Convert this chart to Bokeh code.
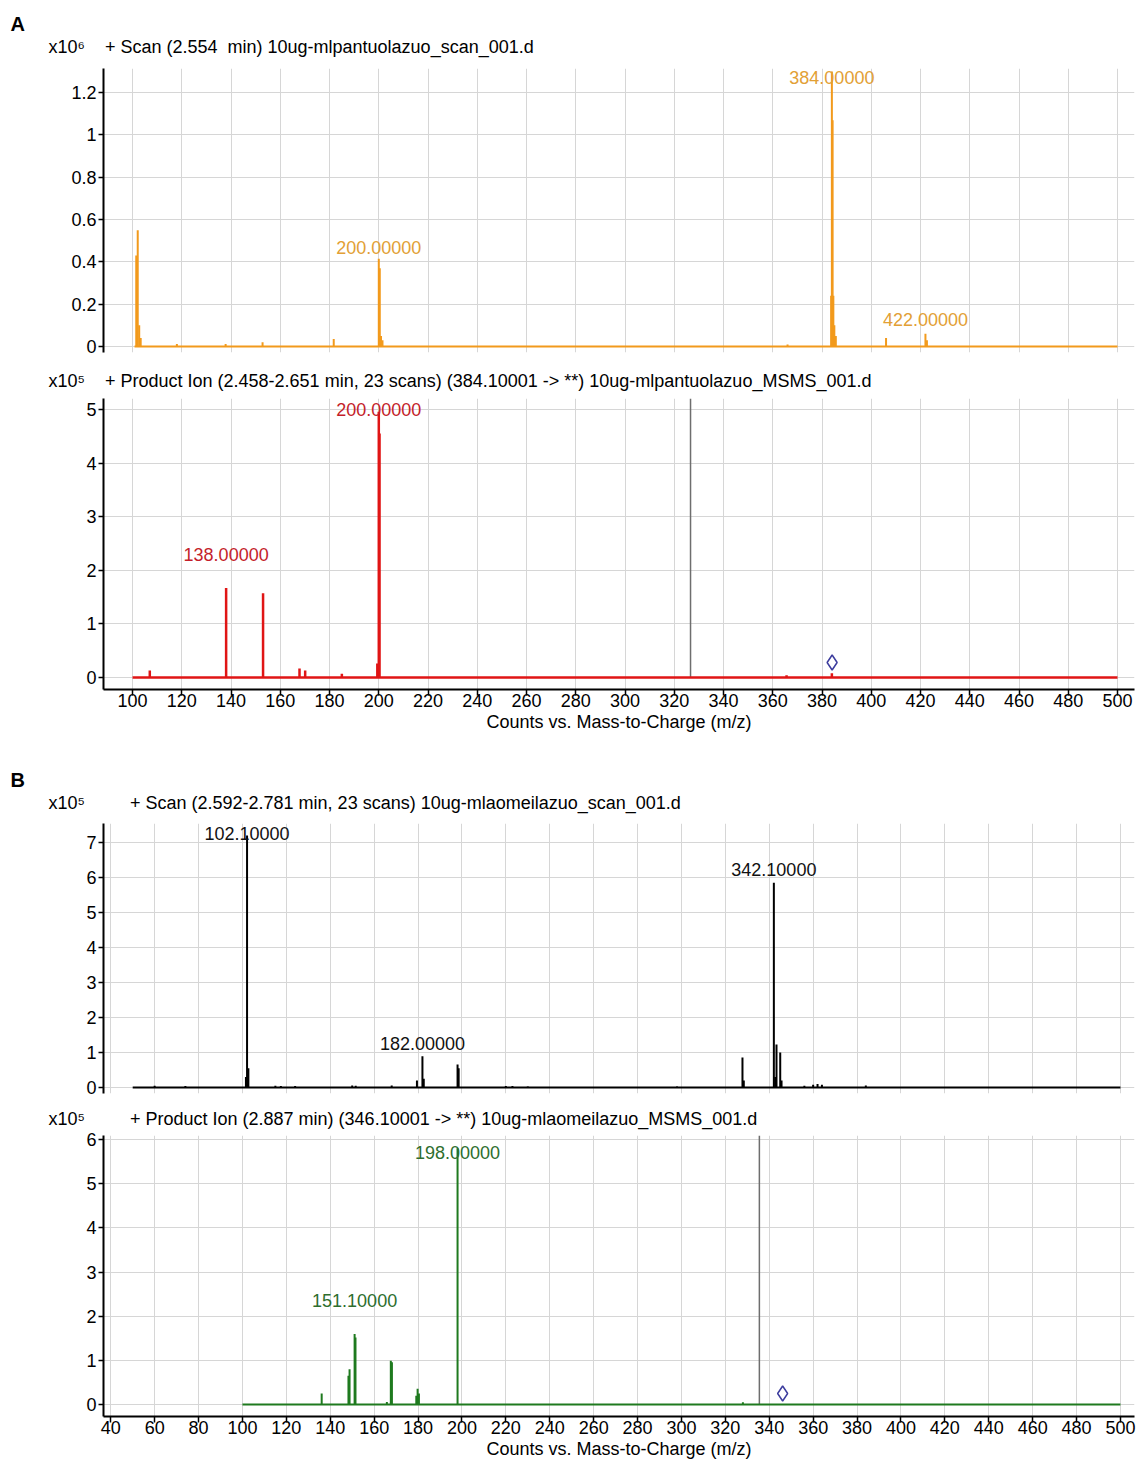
from bokeh.plotting import figure
from bokeh.models import Title, FixedTicker, Range1d, ColumnDataSource
from bokeh.layouts import column
from bokeh.embed import file_html
from bokeh.resources import INLINE
from bokeh.core.properties import value

FONT = "'Liberation Sans', Arial, sans-serif"

# ---------------- data ----------------
# Panel A, top: full scan (x10^6)
a1_range = [100.8, 500.0]
a1_mz = [101.5, 102.1, 102.7, 103.3, 118.0, 137.8, 152.8, 181.7, 200.0, 200.4, 200.9, 201.5,
         366.0, 383.7, 384.0, 384.3, 384.6, 385.0, 385.6, 406.0, 422.0, 422.6]
a1_int = [0.43, 0.55, 0.10, 0.04, 0.012, 0.012, 0.02, 0.035, 0.415, 0.37, 0.05, 0.03,
          0.01, 0.24, 1.30, 1.07, 0.24, 0.10, 0.05, 0.04, 0.06, 0.03]
a1_lab_mz = [200.0, 384.0, 422.0]
a1_lab_int = [0.415, 1.30, 0.06]

# Panel A, bottom: product ion (x10^5)
a2_range = [100.0, 500.0]
a2_mz = [107.0, 138.0, 153.0, 167.8, 170.1, 185.0, 199.4, 200.0, 200.3, 365.6, 384.0]
a2_int = [0.13, 1.67, 1.57, 0.17, 0.13, 0.07, 0.26, 4.96, 4.55, 0.04, 0.08]
a2_lab_mz = [138.0, 200.0]
a2_lab_int = [1.67, 4.96]
a2_precursor = [384.1]
a2_precursor_int = [0.28]
a2_cursor = 326.6

# Panel B, top: scan (x10^5)
b1_range = [50.0, 500.0]
b1_mz = [60.0, 74.0, 101.6, 102.1, 102.7, 115.0, 117.5, 124.0, 150.0, 151.6, 168.0, 179.5,
         182.0, 182.6, 198.0, 198.5, 220.0, 223.0, 230.0, 298.0, 327.8, 328.4, 342.1, 342.7,
         343.3, 345.0, 345.6, 356.0, 360.0, 362.0, 364.0, 384.0]
b1_int = [0.05, 0.04, 0.30, 7.20, 0.55, 0.05, 0.04, 0.04, 0.06, 0.05, 0.06, 0.20,
          0.89, 0.25, 0.66, 0.55, 0.04, 0.04, 0.03, 0.03, 0.86, 0.20, 5.85, 0.30,
          1.23, 1.00, 0.20, 0.05, 0.08, 0.10, 0.08, 0.06]
b1_lab_mz = [102.1, 182.0, 342.1]
b1_lab_int = [7.20, 0.89, 5.85]

# Panel B, bottom: product ion (x10^5)
b2_range = [100.0, 500.0]
b2_mz = [136.1, 148.3, 148.8, 151.1, 151.5, 165.8, 167.6, 168.1, 179.2, 179.8, 180.4, 198.0, 328.0]
b2_int = [0.25, 0.65, 0.80, 1.60, 1.52, 0.06, 0.99, 0.96, 0.20, 0.36, 0.25, 5.80, 0.05]
b2_lab_mz = [151.1, 198.0]
b2_lab_int = [1.60, 5.80]
b2_precursor = [346.1]
b2_precursor_int = [0.25]
b2_cursor = 335.5

a_xticks = list(range(100, 501, 20))
b_xticks = list(range(40, 501, 20))
a1_yticks = [0, 0.2, 0.4, 0.6, 0.8, 1, 1.2]
a1_ylabels = ["0", "0.2", "0.4", "0.6", "0.8", "1", "1.2"]
a2_yticks = [0, 1, 2, 3, 4, 5]
b1_yticks = [0, 1, 2, 3, 4, 5, 6, 7]
b2_yticks = [0, 1, 2, 3, 4, 5, 6]

NB = "\u00a0"
headers = {
    "a1": "x10\u2076" + NB * 4 + "+ Scan (2.554" + NB * 2 + "min) 10ug-mlpantuolazuo_scan_001.d",
    "a2": "x10\u2075" + NB * 4 + "+ Product Ion (2.458-2.651 min, 23 scans) (384.10001 -> **) 10ug-mlpantuolazuo_MSMS_001.d",
    "b1": "x10\u2075" + NB * 9 + "+ Scan (2.592-2.781 min, 23 scans) 10ug-mlaomeilazuo_scan_001.d",
    "b2": "x10\u2075" + NB * 9 + "+ Product Ion (2.887 min) (346.10001 -> **) 10ug-mlaomeilazuo_MSMS_001.d",
}
XLABEL = "Counts vs. Mass-to-Charge (m/z)"

FRAME_W = 1031
GRID = "#d6d6d6"
FS = "18px"


def panel(xr, yr, frame_h, top, bottom, header, header_standoff, letter=None,
          letter_standoff=0, show_x=False, xticks=None):
    p = figure(frame_width=FRAME_W, frame_height=frame_h,
               x_range=Range1d(*xr), y_range=Range1d(*yr),
               min_border_left=103, min_border_right=3,
               min_border_top=top, min_border_bottom=bottom,
               toolbar_location=None, output_backend="svg", title=None)
    p.outline_line_color = None
    p.background_fill_color = "white"
    p.add_layout(Title(text=header, align="left", offset=-55, text_font=FONT,
                       text_font_size=FS, text_font_style="normal",
                       text_color="black", standoff=header_standoff), "above")
    if letter:
        p.add_layout(Title(text=letter, align="left", offset=-93, text_font=FONT,
                           text_font_size="20px", text_font_style="bold",
                           text_color="black", standoff=letter_standoff), "above")
    p.xgrid.ticker = FixedTicker(ticks=xticks)
    p.grid.grid_line_color = GRID
    p.grid.grid_line_width = 1
    p.xaxis.ticker = FixedTicker(ticks=xticks)
    if show_x:
        ax = p.xaxis[0]
        ax.axis_line_width = 2
        ax.axis_line_color = "black"
        ax.major_tick_out = 6
        ax.major_tick_in = 0
        ax.major_tick_line_width = 1.5
        ax.minor_tick_out = 0
        ax.minor_tick_in = 0
        ax.major_label_text_font = FONT
        ax.major_label_text_font_size = FS
        ax.major_label_text_color = "black"
        ax.major_label_standoff = -2
        ax.axis_label = XLABEL
        ax.axis_label_text_font = FONT
        ax.axis_label_text_font_size = FS
        ax.axis_label_text_font_style = "normal"
        ax.axis_label_text_color = "black"
        ax.axis_label_standoff = 2
    else:
        p.xaxis.visible = False
    ay = p.yaxis[0]
    ay.axis_line_width = 2
    ay.axis_line_color = "black"
    ay.major_tick_out = 5
    ay.major_tick_in = 0
    ay.major_tick_line_width = 1.5
    ay.minor_tick_out = 0
    ay.minor_tick_in = 0
    ay.major_label_text_font = FONT
    ay.major_label_text_font_size = FS
    ay.major_label_text_color = "black"
    ay.major_label_standoff = 2
    return p


def set_yticks(p, ticks, labels=None):
    if labels is None:
        labels = [str(t) for t in ticks]
    p.yaxis[0].ticker = FixedTicker(ticks=ticks)
    p.ygrid.ticker = FixedTicker(ticks=ticks)
    p.yaxis[0].major_label_overrides = {t: s for t, s in zip(ticks, labels)}


def spectrum(p, rng, mz, inten, color, width):
    p.line(x=rng, y=[0, 0], line_color=color, line_width=width)
    src = ColumnDataSource(dict(x=mz, y0=[0] * len(mz), y1=inten))
    p.segment(x0="x", y0="y0", x1="x", y1="y1", source=src, line_color=color, line_width=width)


def peak_labels(p, mz, inten, offsets, color):
    src = ColumnDataSource(dict(x=mz, y=inten, t=["%.5f" % m for m in mz], off=offsets))
    p.text(x="x", y="y", text="t", y_offset="off", source=src, text_color=color,
           text_font=value(FONT), text_font_size=FS, text_align="center",
           text_baseline="middle")


# ---- Panel A top ----
ORANGE = "#F29A1C"
ORANGE_T = "#E2A035"
pa1 = panel((88.2, 506.9), (-0.0284, 1.3144), 284, 68, 8, headers["a1"], 24, letter="A",
            letter_standoff=-24, xticks=a_xticks)
set_yticks(pa1, a1_yticks, a1_ylabels)
spectrum(pa1, a1_range, a1_mz, a1_int, ORANGE, 2)
peak_labels(pa1, a1_lab_mz, a1_lab_int, [-11, 6, -14], ORANGE_T)

# ---- Panel A bottom ----
RED = "#E01515"
RED_T = "#C41E2A"
pa2 = panel((88.2, 506.9), (-0.224, 5.205), 291, 37, 57, headers["a2"], 16,
            show_x=True, xticks=a_xticks)
set_yticks(pa2, a2_yticks)
pa2.segment(x0=[a2_cursor], y0=[0], x1=[a2_cursor], y1=[5.205], line_color="#6e6e6e", line_width=1.5)
spectrum(pa2, a2_range, a2_mz, a2_int, RED, 2.5)
peak_labels(pa2, a2_lab_mz, a2_lab_int, [-33, -2], RED_T)
pa2.scatter(x=a2_precursor, y=a2_precursor_int, marker="diamond", size=15,
            fill_color=None, line_color="#3d3d9e", line_width=1.5)

# ---- Panel B top ----
pb1 = panel((36.7, 506.4), (-0.171, 7.543), 270, 77, 6, headers["b1"], 22, letter="B",
            letter_standoff=-22, xticks=b_xticks)
set_yticks(pb1, b1_yticks)
spectrum(pb1, b1_range, b1_mz, b1_int, "#000000", 2)
peak_labels(pb1, b1_lab_mz, b1_lab_int, [-2, -13, -13], "#111111")

# ---- Panel B bottom ----
GREEN = "#1F7A1F"
GREEN_T = "#2E6E2E"
pb2 = panel((36.7, 506.4), (-0.27, 6.09), 281, 35, 46, headers["b2"], 14,
            show_x=True, xticks=b_xticks)
set_yticks(pb2, b2_yticks)
pb2.segment(x0=[b2_cursor], y0=[0], x1=[b2_cursor], y1=[6.09], line_color="#6e6e6e", line_width=1.5)
spectrum(pb2, b2_range, b2_mz, b2_int, GREEN, 2)
peak_labels(pb2, b2_lab_mz, b2_lab_int, [-33, 4], GREEN_T)
pb2.scatter(x=b2_precursor, y=b2_precursor_int, marker="diamond", size=15,
            fill_color=None, line_color="#3d3d9e", line_width=1.5)

layout = column(pa1, pa2, pb1, pb2, spacing=0)
open("out.html", "w").write(file_html(layout, INLINE))
